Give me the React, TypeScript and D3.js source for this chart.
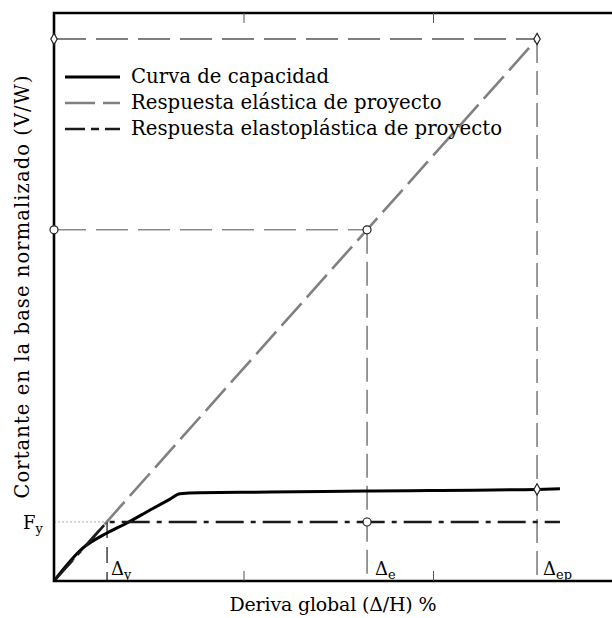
import React, { useEffect, useRef } from 'react';
import * as d3 from 'd3';

// Curva de capacidad (deriva %, V/W normalizado)
const capDrift = [0, 0.153, 0.28, 0.385, 0.507, 0.612, 0.665, 0.77, 1.14, 1.652, 2.549, 2.67];
const capShear = [0, 0.061, 0.0886, 0.107, 0.131, 0.151, 0.161, 0.163, 0.164, 0.166, 0.169, 0.17];

// Respuesta elástica de proyecto
const elasDrift = [0, 2.549];
const elasShear = [0, 1.0];

// Respuesta elastoplástica de proyecto
const epDrift = [0, 0.28, 2.67];
const epShear = [0, 0.1089, 0.1089];

// Puntos notables
const deltaY = 0.28;
const deltaE = 1.652;
const deltaEp = 2.549;
const fy = 0.1089;
const vE = 0.648;
const vEp = 1.0;
const vCapEp = 0.169;

const xTicks = [1, 2];
const legendLabels = [
  'Curva de capacidad',
  'Respuesta elástica de proyecto',
  'Respuesta elastoplástica de proyecto',
];

const FONT = '"DejaVu Serif", serif';

const App = () => {
  const svgRef = useRef<SVGSVGElement>(null);

  useEffect(() => {
    const svg = d3.select(svgRef.current);
    svg.selectAll('*').remove();

    const x = d3.scaleLinear().domain([0, 3]).range([54, 622.5]);
    const y = d3.scaleLinear().domain([0, 1]).range([581, 39]);
    const yTop = 1.048;

    const pts = (xs: number[], ys: number[]) => xs.map((d, i) => [d, ys[i]] as [number, number]);
    const line = d3.line<[number, number]>().x(d => x(d[0])).y(d => y(d[1]));

    // Elástica
    svg.append('path')
      .attr('d', line(pts(elasDrift, elasShear)))
      .attr('fill', 'none')
      .attr('stroke', '#808080')
      .attr('stroke-width', 2.6)
      .attr('stroke-dasharray', '30,8');

    // Líneas de referencia
    const ref = (x1: number, y1: number, x2: number, y2: number, color: string, dash: string, w = 1.2) =>
      svg.append('line')
        .attr('x1', x(x1)).attr('y1', y(y1)).attr('x2', x(x2)).attr('y2', y(y2))
        .attr('stroke', color).attr('stroke-width', w).attr('stroke-dasharray', dash);

    ref(0, vEp, deltaEp, vEp, '#555', '32,10', 1.4);
    ref(0, vE, deltaE, vE, '#8a8a8a', '32,10', 1.6);
    ref(deltaE, vE, deltaE, 0, '#555', '24,8');
    ref(deltaEp, vEp, deltaEp, 0, '#555', '24,8');
    ref(deltaY, fy, deltaY, 0, '#333', '16,9', 1.4);
    ref(0, fy, deltaY, fy, '#999', '2,2', 0.8);

    // Curva de capacidad
    svg.append('path')
      .attr('d', line.curve(d3.curveMonotoneX)(pts(capDrift, capShear)))
      .attr('fill', 'none')
      .attr('stroke', '#000')
      .attr('stroke-width', 3);
    line.curve(d3.curveLinear);

    // Elastoplástica
    svg.append('path')
      .attr('d', line(pts(epDrift, epShear)))
      .attr('fill', 'none')
      .attr('stroke', '#1a1a1a')
      .attr('stroke-width', 2.6)
      .attr('stroke-dasharray', '28,7,5,7');

    // Marco
    svg.append('path')
      .attr('d', `M${x(3)},${y(yTop)}H${x(0)}V${y(0)}H${x(3)}`)
      .attr('fill', 'none')
      .attr('stroke', '#000')
      .attr('stroke-width', 2.6);

    const bottom = svg.append('g')
      .attr('transform', `translate(0,${y(0)})`)
      .call(d3.axisTop(x).tickValues(xTicks).tickSize(10).tickFormat(() => ''));
    const top = svg.append('g')
      .attr('transform', `translate(0,${y(yTop)})`)
      .call(d3.axisBottom(x).tickValues(xTicks).tickSize(10).tickFormat(() => ''));
    [bottom, top].forEach(g => {
      g.select('.domain').remove();
      g.selectAll('line').attr('stroke', '#555').attr('stroke-width', 1);
    });

    // Marcadores
    const diamonds = pts([0, deltaEp, deltaEp], [vEp, vEp, vCapEp]);
    svg.selectAll('.dm')
      .data(diamonds)
      .enter().append('path')
      .attr('d', d3.symbol(d3.symbolDiamond, 36)())
      .attr('transform', d => `translate(${x(d[0])},${y(d[1])})`)
      .attr('fill', '#fff')
      .attr('stroke', '#222')
      .attr('stroke-width', 1.2);

    const circles = pts([0, deltaE, deltaE], [vE, vE, fy]);
    svg.selectAll('.cm')
      .data(circles)
      .enter().append('circle')
      .attr('cx', d => x(d[0]))
      .attr('cy', d => y(d[1]))
      .attr('r', 4)
      .attr('fill', '#fff')
      .attr('stroke', '#222')
      .attr('stroke-width', 1.2);

    // Leyenda
    const legendStyles = [
      { color: '#000', width: 3, dash: null },
      { color: '#808080', width: 2.6, dash: '30,8' },
      { color: '#1a1a1a', width: 2.6, dash: '20,6,8,6' },
    ];
    legendLabels.forEach((label, i) => {
      const ly = 77 + i * 26;
      const s = legendStyles[i];
      const l = svg.append('line')
        .attr('x1', 65).attr('x2', 120).attr('y1', ly).attr('y2', ly)
        .attr('stroke', s.color).attr('stroke-width', s.width);
      if (s.dash) l.attr('stroke-dasharray', s.dash);
      svg.append('text')
        .attr('x', 131).attr('y', ly + 6)
        .style('font-family', FONT).style('font-size', '19.7px')
        .text(label);
    });

    // Etiquetas
    const sub = (tx: number, ty: number, main: string, s: string, size = 18) => {
      const t = svg.append('text')
        .attr('x', tx).attr('y', ty)
        .style('font-family', FONT).style('font-size', `${size}px`);
      t.append('tspan').text(main);
      t.append('tspan').attr('dy', 4).style('font-size', `${size * 0.72}px`).text(s);
    };
    sub(x(deltaY) + 4, 575, 'Δ', 'y');
    sub(x(deltaE) + 8, 575, 'Δ', 'e');
    sub(x(deltaEp) + 6, 575, 'Δ', 'ep');
    sub(23, 529, 'F', 'y');

    svg.append('text')
      .attr('x', 333).attr('y', 611)
      .attr('text-anchor', 'middle')
      .attr('textLength', 207)
      .style('font-family', FONT).style('font-size', '19px')
      .text('Deriva global (Δ/H) %');

    svg.append('text')
      .attr('transform', 'translate(29,287) rotate(-90)')
      .attr('text-anchor', 'middle')
      .attr('textLength', 423)
      .style('font-family', FONT).style('font-size', '19.5px')
      .text('Cortante en la base normalizado (V/W)');
  }, []);

  return (
    <svg
      ref={svgRef}
      width={612}
      height={618}
      style={{ position: 'absolute', left: 0, top: 0, background: '#fff' }}
    />
  );
};

export default App;
